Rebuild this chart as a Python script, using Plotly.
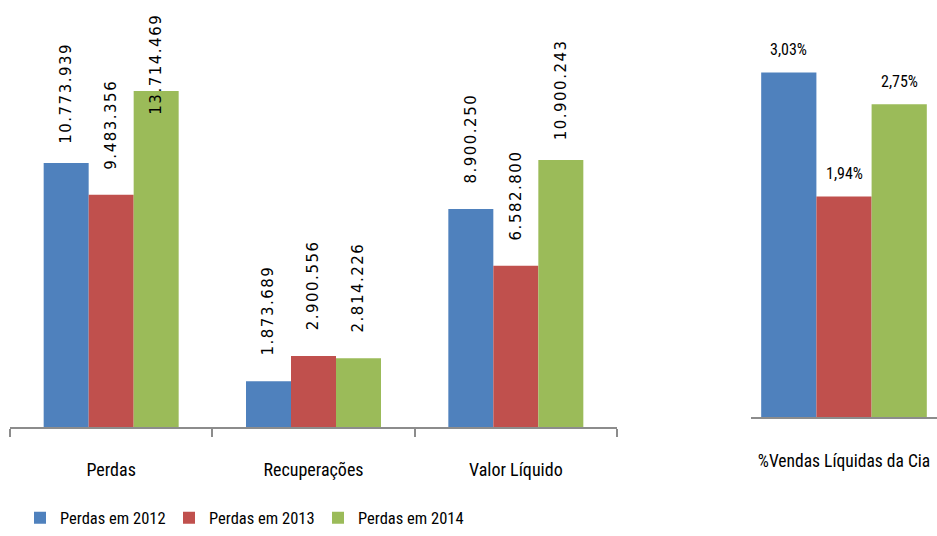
import plotly.graph_objects as go

# ---------------- data ----------------
categories = ["Perdas", "Recuperações", "Valor Líquido"]
series_names = ["Perdas em 2012", "Perdas em 2013", "Perdas em 2014"]
values_2012 = [10773939, 1873689, 8900250]
values_2013 = [9483356, 2900556, 6582800]
values_2014 = [13714469, 2814226, 10900243]
pct_category = ["%Vendas Líquidas da Cia"]
pct_2012 = [3.03]
pct_2013 = [1.94]
pct_2014 = [2.75]

colors = ["#4F81BD", "#C0504D", "#9BBB59"]
W, H = 937, 536

# ---------------- layout constants ----------------
left_x0, left_x1 = 10, 617
left_base = 432
left_range = 17.43e6
right_x0, right_x1 = 751, 937
right_base = 422
right_range = 3.666

NARROW = "Liberation Sans Narrow, Arial Narrow, Roboto Condensed, sans-serif"

def fmt_br(v):
    return f"{v:,}".replace(",", ".")

def fmt_pct(v):
    return f"{v:.2f}".replace(".", ",") + "%"

fig = go.Figure()

left_series = [values_2012, values_2013, values_2014]
right_series = [pct_2012, pct_2013, pct_2014]

bw_left = 0.2224
bw_right = 0.2968
for i, (name, vals) in enumerate(zip(series_names, left_series)):
    fig.add_trace(go.Bar(
        x=categories, y=vals, name=name,
        marker=dict(color=colors[i], line=dict(width=0)),
        width=bw_left, offset=-1.5 * bw_left + i * bw_left,
        xaxis="x", yaxis="y", showlegend=True,
    ))
for i, (name, vals) in enumerate(zip(series_names, right_series)):
    fig.add_trace(go.Bar(
        x=pct_category, y=vals, name=name,
        marker=dict(color=colors[i], line=dict(width=0)),
        width=bw_right, offset=-1.5 * bw_right + i * bw_right,
        xaxis="x2", yaxis="y2", showlegend=False,
    ))

annotations = []
# rotated data labels on left chart
px_per_unit = left_base / left_range
label_half = 51
gap = 19
top_min_center = 13 + label_half
for i, vals in enumerate(left_series):
    for j, v in enumerate(vals):
        bar_top_px = left_base - v * px_per_unit
        center_px = bar_top_px - gap - label_half
        x_val = j - 1.5 * bw_left + (i + 0.5) * bw_left
        if center_px >= top_min_center:
            yv, ysh = v, gap + label_half
        else:
            yv, ysh = left_range, -top_min_center
        annotations.append(dict(
            x=x_val, y=yv, xref="x", yref="y", text=fmt_br(v),
            textangle=-90, showarrow=False, xanchor="center", yanchor="middle",
            yshift=ysh, font=dict(family="DejaVu Sans", size=15, color="#000000"),
        ))
# percentage labels on right chart
for i, vals in enumerate(right_series):
    v = vals[0]
    x_val = -1.5 * bw_right + (i + 0.5) * bw_right
    annotations.append(dict(
        x=x_val, y=v, xref="x2", yref="y2", text=fmt_pct(v),
        showarrow=False, xanchor="center", yanchor="middle", yshift=23,
        font=dict(family=NARROW, size=16, color="#000000"),
    ))

fig.update_layout(
    width=W, height=H,
    margin=dict(l=0, r=0, t=0, b=0),
    paper_bgcolor="white", plot_bgcolor="rgba(0,0,0,0)",
    barmode="overlay",
    showlegend=True,
    legend=dict(orientation="h", x=20 / W, xanchor="left", y=1 - 524 / H, yanchor="middle",
                font=dict(family=NARROW, size=16.5, color="#000000"),
                entrywidth=104, itemclick=False),
    xaxis=dict(domain=[left_x0 / W, left_x1 / W], anchor="y",
               showline=True, linecolor="#8C8C8C", linewidth=1.5,
               ticks="outside", ticklen=8, tickcolor="#8C8C8C", tickwidth=1.5,
               tickson="boundaries", showgrid=False, ticklabelstandoff=25,
               tickfont=dict(family=NARROW, size=18, color="#000000")),
    yaxis=dict(domain=[1 - left_base / H, 1], range=[0, left_range], visible=False,
               showgrid=False, zeroline=False),
    xaxis2=dict(domain=[right_x0 / W, right_x1 / W], anchor="y2",
                showline=True, linecolor="#8C8C8C", linewidth=1.5,
                ticks="", showgrid=False, ticklabelstandoff=27,
                tickfont=dict(family=NARROW, size=17.5, color="#000000")),
    yaxis2=dict(domain=[1 - right_base / H, 1], range=[0, right_range], visible=False,
                showgrid=False, zeroline=False),
    annotations=annotations,
)

post = """
var gd = document.getElementById('{plot_id}');
gd.querySelectorAll('g.annotation').forEach(function(g){
  var i = +g.getAttribute('data-index');
  if (i < 9) { g.querySelectorAll('text').forEach(function(t){ t.style.letterSpacing = '1.5px'; }); }
});
"""
fig.write_html("out.html", post_script=post, config={"displayModeBar": False})
